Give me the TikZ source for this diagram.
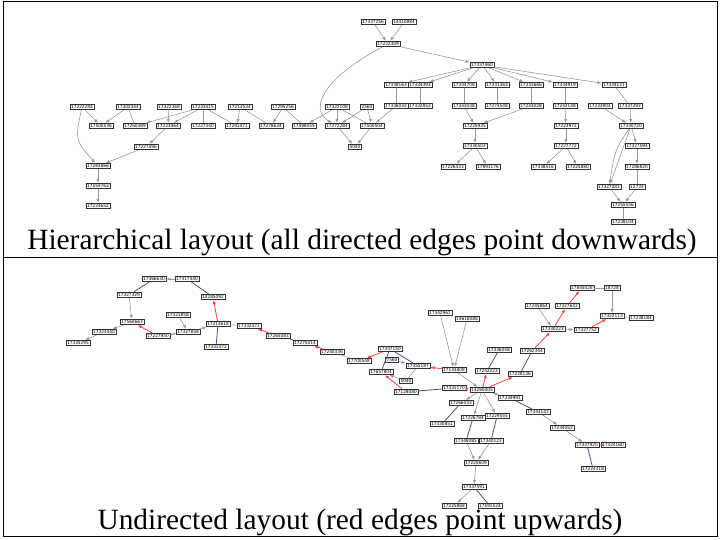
\documentclass[tikz,border=0pt]{standalone}
\usepackage{fontspec}
\setmainfont{Liberation Serif}
\newfontfamily\nodefont{DejaVu Sans}
\usetikzlibrary{arrows.meta}
\begin{document}
\begin{tikzpicture}[x=0.5pt,y=-0.5pt,
 nd/.style={draw=black!80,fill=white,line width=0.35pt,inner sep=0.55pt,font=\nodefont\fontsize{2.15}{2.5}\selectfont},
 ga/.style={draw=black!40,line width=0.3pt,-{Latex[length=2pt,width=1.6pt]}},
 gl/.style={draw=black!40,line width=0.3pt},
 bl/.style={draw=blue!40!black!70,line width=0.4pt},
 ra/.style={draw=red!75,line width=0.4pt,-{Latex[length=2pt,width=1.6pt]}},
 ttl/.style={font=\fontsize{14.7}{16}\selectfont}]
\useasboundingbox (0,0) rectangle (720,540);
\draw[line width=0.5pt] (3,2) rectangle (718,537);
\draw[line width=0.5pt] (3,258) -- (718,258);
\node[ttl] (tt1) at (362,242) {Hierarchical layout (all directed edges point downwards)};
\node[ttl] (tt2) at (360,522) {Undirected layout (red edges point upwards)};
% ---------- top ----------
\foreach \n/\x/\y/\t in {a1/373/22/17337256,a2/404/22/14410884,a3/388/44/17222309,hub/482/65/17337460,
 h1/396/85/17338163,h2/420/85/17334393,h3/464/85/17334708,h4/497/85/17331363,h5/531/85/17331666,h6/565/85/17334919,h7/614/85/17334121,
 l1/82/107/17222284,l2/128/107/17302344,l3/169/107/17322368,l4/203/107/17233415,l5/240/107/17213534,l6/283/107/17295256,l7/337/107/17322108,l8/367/107/2560,
 r1/396/106/17336032,r2/420/106/17332852,r3/464/106/17343038,r4/497/106/17274548,r5/531/106/17243028,r6/565/106/17243148,r7/600/106/17233904,r8/630/106/17337293,
 m1/101/126/17500536,m2/135/126/17260389,m3/168/126/17223964,m4/203/126/17227340,m5/237/126/17291471,m6/271/126/17278634,m7/304/126/17498055,m8/337/126/17272284,m9/372/126/17500504,
 q1/146/147/17227496,q2/355/147/5040,q3/98/166/17283866,q4/98/186/17554763,q5/98/206/17224652,
 s1/475/126/17225935,s2/475/146/17330503,s3/453/167/17226433,s4/488/167/17891176,
 u1/566/126/17223972,u2/566/146/17227772,u3/543/167/17338516,u4/578/167/17225880,
 v1/631/126/17330720,v2/637/146/17327594,v3/637/167/17286820,v4/609/187/17327082,v5/637/187/12734,v6/623/205/17255556,v7/623/222/17238104}
 {\node[nd] (\n) at (\x,\y) {\t};}
\foreach \a/\b in {a1/a3,a2/a3,a3/hub,hub/h1,hub/h2,hub/h3,hub/h4,hub/h5,hub/h6,hub/h7,
 r3/s1,r5/s1,s1/s2,s2/s3,s2/s4,r6/u1,u1/u2,u2/u3,u2/u4,r7/v1,r8/v1,v1/v2,v1/v4,v2/v3,v4/v6,v5/v6,
 l2/m1,l3/m3,l4/m2,l4/m3,l5/m5,l6/m6,l7/m7,l7/m8,l8/m8,l8/m9,r1/m9,m3/q1,q1/q3,q3/q4,q4/q5,m8/q2,m9/q2,l1/m1}
 {\draw[ga] (\a) -- (\b);}
\foreach \a/\b in {h1/r1,h2/r2,h3/r3,h4/r4,h5/r5,h6/r6,h7/r8,v3/v5,v6/v7,l2/m2,l4/m4,l4/m5,l5/m6,l6/m7,l7/m9}
 {\draw[gl] (\a) -- (\b);}
\draw[ga] (l1) .. controls (75,140) .. (q3);
\draw[ga] (a3) .. controls (320,80) and (310,110) .. (m8);
\draw[ga] (v1) .. controls (615,150) .. (v4);
% ---------- bottom ----------
\foreach \n/\x/\y/\t in {b1/154/279/17366630,b2/187/279/17317440,b3/129/295/17327329,b4/213/297/14285092,b5/132/322/17560663,
 b6/178/315/17321858,b7/104/332/17323440,b8/78/343/17335295,b9/158/336/17227950,b10/188/332/17327858,b11/218/324/17213618,
 b12/216/347/17331472,b13/249/326/17332472,b14/278/336/17265083,b15/305/343/17275014,b16/332/352/17240336,b17/359/361/17700548,
 c1/390/349/17337150,c2/392/360/7560,c3/418/366/17355187,c4/381/372/17657804,c5/406/381/5040,c6/406/392/17128080,
 c7/454/370/17133808,c8/440/313/17342961,c9/467/319/14618088,c10/454/388/17331170,c11/482/390/14260405,
 c12/499/350/17336048,c13/487/371/17242223,c14/520/374/17228136,c15/461/403/17266033,c16/442/424/17330851,
 c17/473/418/17226784,c18/497/416/17229555,c19/466/441/17348085,c20/491/441/17340123,c21/476/463/17225609,
 c22/474/487/17337591,c23/454/506/17225868,c24/490/506/17591524,c25/510/398/17334991,c26/538/412/17343142,
 c27/562/428/17234052,c28/587/445/17337920,c29/613/445/17324160,c30/593/469/17224318,c31/532/351/17262344,
 c32/553/329/17330223,c33/537/306/17245864,c34/567/306/17327642,c35/582/288/17845028,c36/612/288/18728,
 c37/612/316/17322113,c38/641/318/17238184,c39/586/330/17327752}
 {\node[nd] (\n) at (\x,\y) {\t};}
\foreach \a/\b in {b2/b1,b3/b5,b5/b7,b7/b8,b6/b10,b10/b11,c2/c3,c5/c4,c8/c7,c9/c7,c7/c11,c33/c32,c36/c37,c32/c39,
 c11/c15,c11/c17,c11/c18,c19/c21,c20/c21,c21/c22,c22/c23,c11/c25,c26/c27,c27/c28}
 {\draw[ga] (\a) -- (\b);}
\foreach \a/\b in {b11/b4,b9/b5,b14/b13,b16/b15,c1/b17,c6/c4,c7/c3,c10/c11,c11/c13,c11/c14,c31/c32,c32/c34,c34/c35,c39/c37,c29/c28}
 {\draw[ra] (\a) -- (\b);}
\foreach \a/\b in {b1/b3,b2/b4,b9/b10,b11/b12,b14/b15,c1/c3,c1/c4,c6/c10,c13/c12,c14/c31,c15/c16,c17/c19,c18/c20,c22/c24,c25/c26,c28/c30}
 {\draw[bl] (\a) -- (\b);}
\foreach \a/\b in {b11/b13,b16/b17,c3/c5,c35/c36,c37/c38}
 {\draw[gl] (\a) -- (\b);}
\end{tikzpicture}
\end{document}
